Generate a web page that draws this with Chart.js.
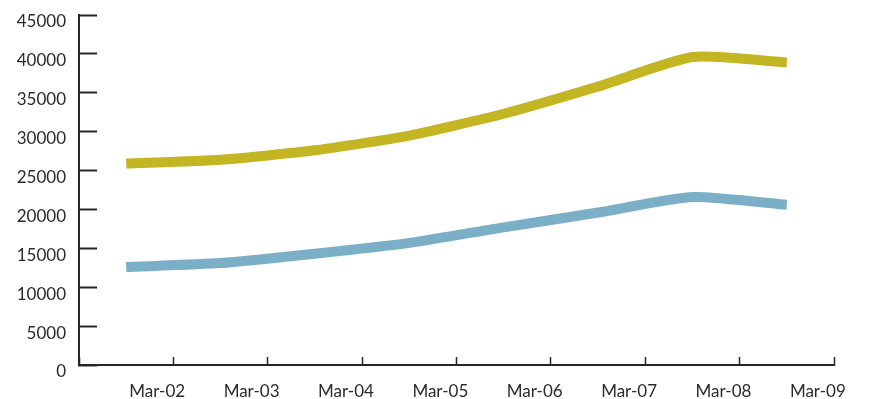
<!DOCTYPE html>
<html>
<head>
<meta charset="utf-8">
<script src="https://cdn.jsdelivr.net/npm/chart.js@4/dist/chart.umd.min.js"></script>
<style>
  html, body { margin: 0; padding: 0; background: #ffffff; }
  #wrap { width: 869px; height: 399px; position: relative; }
</style>
</head>
<body>
<div id="wrap"><canvas id="chart"></canvas></div>
<script>
// Period labels (March of each year)
const periods = ['Mar-02', 'Mar-03', 'Mar-04', 'Mar-05', 'Mar-06', 'Mar-07', 'Mar-08', 'Mar-09'];

// Upper series (olive yellow)
const upperSeries = [25900, 26400, 27600, 29500, 32300, 35800, 39600, 38900];

// Lower series (light blue)
const lowerSeries = [12600, 13100, 14300, 15700, 17700, 19600, 21600, 20600];

// Value axis range
const yMin = 0;
const yMax = 45000;
const yStep = 5000;

const axisColor = '#262626';
const textColor = '#2b2b2b';
const tickFont = { family: 'Lato, "Open Sans", sans-serif', size: 17 };

new Chart(document.getElementById('chart'), {
  type: 'line',
  data: {
    labels: periods,
    datasets: [
      {
        data: upperSeries,
        borderColor: '#C4B523',
        borderWidth: 10,
        borderCapStyle: 'butt',
        borderJoinStyle: 'round',
        pointRadius: 0,
        tension: 0.2,
        fill: false
      },
      {
        data: lowerSeries,
        borderColor: '#7BAFC7',
        borderWidth: 10,
        borderCapStyle: 'butt',
        borderJoinStyle: 'round',
        pointRadius: 0,
        tension: 0.2,
        fill: false
      }
    ]
  },
  options: {
    responsive: true,
    maintainAspectRatio: false,
    animation: false,
    layout: { padding: { top: 15, right: 35, left: 0, bottom: 0 } },
    plugins: {
      legend: { display: false },
      tooltip: { enabled: false }
    },
    scales: {
      x: {
        type: 'category',
        offset: true,
        grid: {
          offset: true,
          drawOnChartArea: false,
          drawTicks: true,
          tickLength: -8,
          tickWidth: 1.5,
          tickColor: axisColor
        },
        border: { display: true, color: axisColor, width: 2 },
        ticks: {
          color: textColor,
          font: tickFont,
          padding: 24,
          labelOffset: 31,
          maxRotation: 0,
          autoSkip: false
        },
        afterFit(scale) {
          scale.height = 34;
          scale.paddingLeft = 0;
          scale.paddingRight = 0;
        }
      },
      y: {
        min: yMin,
        max: yMax,
        grid: {
          drawOnChartArea: false,
          drawTicks: true,
          tickLength: -18,
          tickWidth: 2,
          tickColor: axisColor
        },
        border: { display: true, color: axisColor, width: 2 },
        ticks: {
          stepSize: yStep,
          color: textColor,
          font: tickFont,
          padding: 31,
          labelOffset: 7,
          callback: (v) => String(v)
        },
        afterFit(scale) {
          scale.width = 79;
          scale.paddingTop = 0;
          scale.paddingBottom = 0;
        }
      }
    }
  }
});
</script>
</body>
</html>
